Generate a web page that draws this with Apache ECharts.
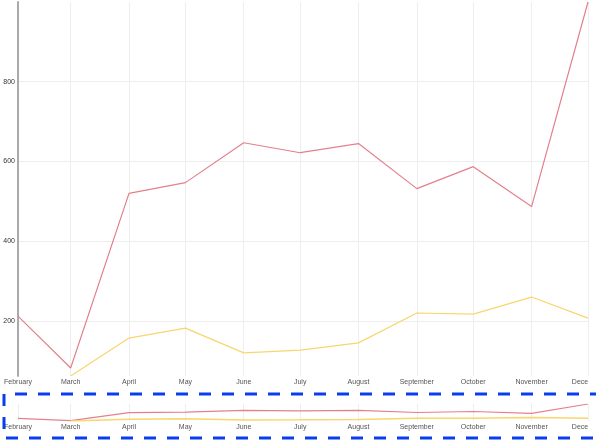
<!DOCTYPE html>
<html>
<head>
<meta charset="utf-8">
<script src="https://cdn.jsdelivr.net/npm/echarts@6/dist/echarts.min.js"></script>
<style>
  html, body { margin: 0; padding: 0; background: #fff; }
  #chart { width: 596px; height: 444px; }
</style>
</head>
<body>
<div id="chart"></div>
<script>
// month starts of 2021 (Feb has 28 days, so spacing follows the calendar)
const months = ['February', 'March', 'April', 'May', 'June', 'July', 'August',
  'September', 'October', 'November', 'December'];
const monthNumbers = [2, 3, 4, 5, 6, 7, 8, 9, 10, 11, 12];
const redValues = [212, 82, 520, 547, 647, 622, 645, 532, 587, 487, 1000];
const yellowValues = [null, 62, 157, 182, 120, 127, 145, 220, 217, 260, 207];

const times = monthNumbers.map(m => new Date(2021, m - 1, 1).getTime());
const redData = times.map((t, i) => [t, redValues[i]]);
const yellowData = times.map((t, i) => [t, yellowValues[i]]);

const chart = echarts.init(document.getElementById('chart'));

const DAY = 24 * 3600 * 1000;
const lastIdx = months.length - 1;

const xLabel = {
  fontSize: 7,
  fontFamily: 'Liberation Sans',
  color: '#555',
  margin: 3,
  showMinLabel: true,
  showMaxLabel: true,
  hideOverlap: false,
  formatter: function (value) {
    const i = times.indexOf(value);
    if (i < 0) return '';
    return i === lastIdx ? '{cut|' + months[i].slice(0, 4) + '}' : months[i];
  },
  rich: {
    cut: { fontSize: 7, fontFamily: 'Liberation Sans', color: '#555', padding: [0, 16, 0, 0] }
  }
};

function timeAxis(gridIndex) {
  return {
    type: 'time',
    gridIndex: gridIndex,
    min: times[0],
    max: times[lastIdx],
    splitNumber: 10,
    minInterval: 28 * DAY,
    maxInterval: 31 * DAY,
    axisLine: { show: false },
    axisTick: { show: false },
    axisLabel: xLabel,
    splitLine: { show: true, lineStyle: { color: '#eee', width: 1 } }
  };
}

const option = {
  animation: false,
  backgroundColor: '#fff',
  grid: [
    { left: 18, right: 8, top: 2, bottom: 68 },
    { left: 18, right: 8, top: 404, bottom: 23 }
  ],
  xAxis: [timeAxis(0), timeAxis(1)],
  yAxis: [
    {
      type: 'value',
      gridIndex: 0,
      min: 'dataMin',
      max: 'dataMax',
      axisLine: { show: true, lineStyle: { color: '#aaa', width: 2 } },
      axisTick: { show: false },
      axisLabel: {
        fontSize: 7,
        fontFamily: 'Liberation Sans',
        color: '#333',
        margin: 3,
        showMinLabel: false,
        showMaxLabel: false
      },
      splitLine: {
        show: true,
        showMinLine: false,
        showMaxLine: false,
        lineStyle: { color: '#eee', width: 1 }
      }
    },
    {
      type: 'value',
      gridIndex: 1,
      min: 'dataMin',
      max: 'dataMax',
      show: false,
      splitLine: { show: false }
    }
  ],
  series: [
    {
      type: 'line',
      xAxisIndex: 0,
      yAxisIndex: 0,
      data: redData,
      symbol: 'none',
      lineStyle: { color: '#e3818b', width: 1.2 }
    },
    {
      type: 'line',
      xAxisIndex: 0,
      yAxisIndex: 0,
      data: yellowData,
      symbol: 'none',
      lineStyle: { color: '#f8d66c', width: 1.2 }
    },
    {
      type: 'line',
      xAxisIndex: 1,
      yAxisIndex: 1,
      data: redData,
      symbol: 'none',
      lineStyle: { color: '#e3818b', width: 1.2 }
    },
    {
      type: 'line',
      xAxisIndex: 1,
      yAxisIndex: 1,
      data: yellowData,
      symbol: 'none',
      lineStyle: { color: '#f8d66c', width: 1.5 }
    }
  ],
  graphic: [
    {
      type: 'rect',
      shape: { x: 4, y: 394, width: 600, height: 44 },
      style: { fill: null, stroke: '#0a3cf0', lineWidth: 3, lineDash: [12, 11], lineDashOffset: 12 },
      silent: true,
      z: 100
    }
  ]
};

chart.setOption(option);
</script>
</body>
</html>
